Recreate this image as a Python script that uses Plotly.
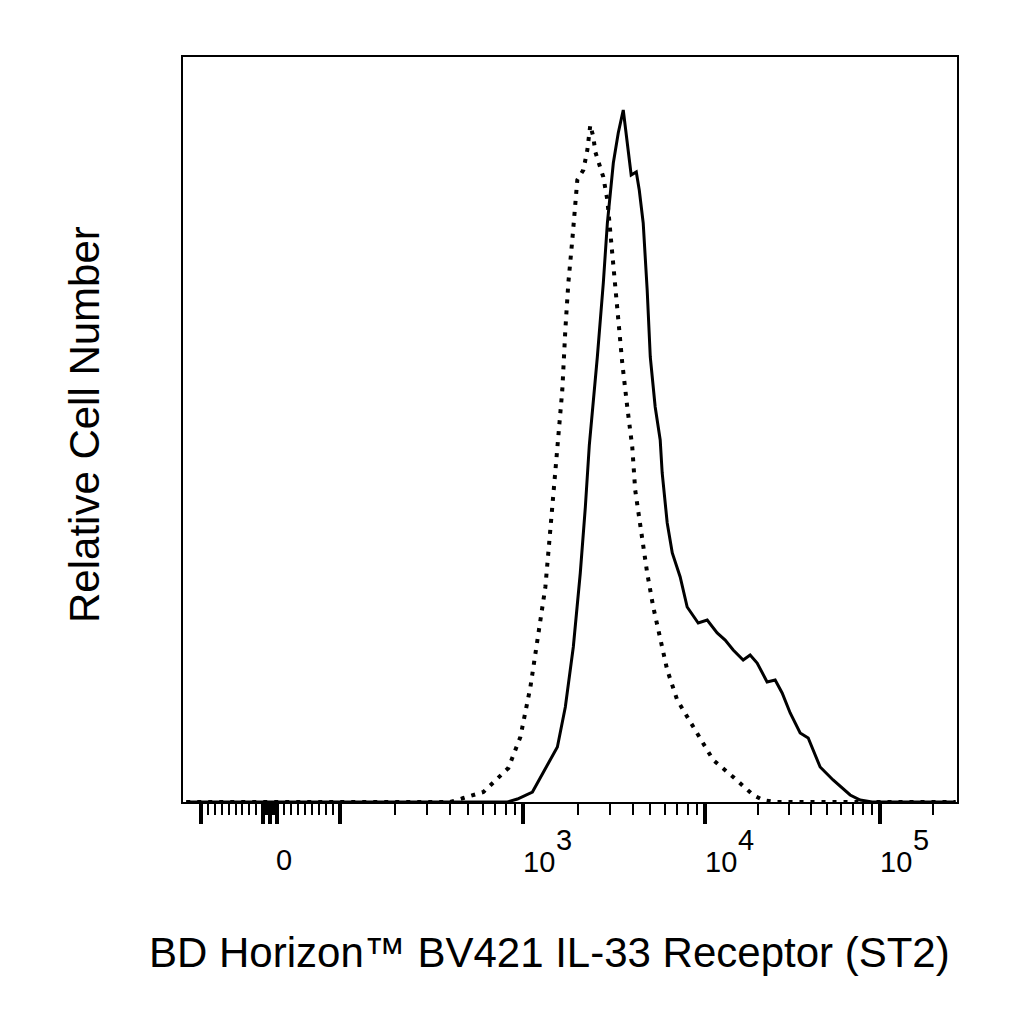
import numpy as np
import plotly.graph_objects as go

# --- biexponential display scale (value -> display decades)
SCALE_VALUES = [100, 1e3, 1e4, 1e5]
SCALE_DECADES = [0.386, 1.408, 2.419, 3.392]
LINEAR_LIMIT = 100


def to_axis(v):
    v = np.atleast_1d(np.asarray(v, dtype=float))
    out = np.empty_like(v)
    lin = np.abs(v) <= LINEAR_LIMIT
    out[lin] = v[lin] / LINEAR_LIMIT * SCALE_DECADES[0]
    big = ~lin
    lv = np.log10(np.abs(v[big]))
    d = np.interp(lv, np.log10(SCALE_VALUES), SCALE_DECADES)
    slope = SCALE_DECADES[-1] - SCALE_DECADES[-2]
    d = np.where(lv > 5, SCALE_DECADES[-1] + (lv - 5) * slope, d)
    out[big] = np.sign(v[big]) * d
    return out


# --- histogram data (fluorescence intensity, relative cell count)
solid_x = [-120, 700, 819, 928, 1121, 1355, 1538, 1701, 1882, 2056,
           2192, 2305, 2551, 2752, 2897, 3124, 3325, 3543, 3727, 3917,
           4178, 4339, 4561, 4797, 4989, 5309, 5657, 5801, 6183, 6592,
           7286, 7960, 9155, 10270, 11710, 13010, 14460, 16490, 18070, 19820,
           22590, 25120, 27540, 30610, 34900, 38800, 45400, 53830, 67400, 76900,
           90000, 270000]
solid_y = [0, 0, 0, 3, 10, 37, 55, 95, 155, 229,
           295, 357, 445, 519, 579, 639, 669, 692, 662, 627,
           630, 612, 579, 512, 445, 395, 362, 329, 279, 249,
           225, 195, 179, 182, 169, 162, 152, 142, 147, 139,
           120, 122, 109, 89, 69, 64, 35, 22, 7, 2,
           0, 0]

dotted_x = [-120, 400, 472, 606, 829, 963, 1093, 1209, 1321, 1406,
            1499, 1556, 1637, 1701, 1767, 1858, 1931, 1980, 2137, 2248,
            2334, 2425, 2488, 2584, 2752, 2897, 3008, 3201, 3325, 3499,
            3727, 3971, 4121, 4393, 4797, 5180, 5657, 6183, 7016, 7960,
            9035, 11110, 14460, 18800, 21440, 25000, 270000]
dotted_y = [0, 0, 4, 10, 34, 65, 115, 169, 215, 272,
            329, 357, 412, 472, 519, 562, 602, 622, 632, 652,
            677, 665, 650, 640, 625, 602, 569, 519, 479, 439,
            395, 355, 312, 275, 229, 195, 162, 132, 102, 85,
            69, 42, 25, 7, 2, 0, 0]

# --- axis ticks
major_ticks = [-100, -10, 0, 10, 100, 1e3, 1e4, 1e5]
minor_ticks = ([-v for v in range(20, 100, 10)] + [-v for v in range(1, 10)]
               + list(range(1, 10)) + list(range(20, 100, 10))
               + list(range(200, 1000, 100)) + list(range(2000, 10000, 1000))
               + list(range(20000, 100000, 10000)) + [200000])
label_values = [1e3, 1e4, 1e5]
label_exponents = ["3", "4", "5"]

x_range = [to_axis(-125)[0], to_axis(275000)[0]]
FONT = "Liberation Sans, Arial, sans-serif"

fig = go.Figure()

fig.add_trace(go.Scatter(x=to_axis(dotted_x), y=dotted_y, mode="lines",
                         line=dict(color="black", width=4, dash="4px,7px")))
fig.add_trace(go.Scatter(x=to_axis(solid_x), y=solid_y, mode="lines",
                         line=dict(color="black", width=3)))

annotations = []
# "0" label
annotations.append(dict(x=to_axis(0)[0], y=0, xref="x", yref="paper", text="0",
                        showarrow=False, xanchor="left", yanchor="middle",
                        xshift=4, yshift=-58, font=dict(family=FONT, size=29, color="black")))
for v, e in zip(label_values, label_exponents):
    xv = to_axis(v)[0]
    annotations.append(dict(x=xv, y=0, xref="x", yref="paper", text="10",
                            showarrow=False, xanchor="left", yanchor="middle",
                            xshift=-2, yshift=-60, font=dict(family=FONT, size=29, color="black")))
    annotations.append(dict(x=xv, y=0, xref="x", yref="paper", text=e,
                            showarrow=False, xanchor="left", yanchor="middle",
                            xshift=31, yshift=-38, font=dict(family=FONT, size=29, color="black")))

# axis titles
annotations.append(dict(x=(549 - 183) / 774, y=0, xref="paper", yref="paper",
                        text="BD Horizon™ BV421 IL-33 Receptor (ST2)", showarrow=False,
                        xanchor="center", yanchor="middle", yshift=-150,
                        font=dict(family=FONT, size=42, color="black")))
annotations.append(dict(x=(84 - 183) / 774, y=(802 - 425) / 745, xref="paper", yref="paper",
                        text="Relative Cell Number", showarrow=False, textangle=-90,
                        xanchor="center", yanchor="middle",
                        font=dict(family=FONT, size=42, color="black")))

# page body adds 8px, margins compensate for it
fig.update_layout(
    width=1024, height=1024,
    margin=dict(l=175, r=75, t=49, b=230),
    plot_bgcolor="white", paper_bgcolor="white",
    showlegend=False,
    annotations=annotations,
    xaxis=dict(range=x_range, tickmode="array", tickvals=to_axis(major_ticks),
               ticks="outside", ticklen=20, tickwidth=4, tickcolor="black",
               showticklabels=False, showline=True, linewidth=2, linecolor="black",
               mirror=True, showgrid=False, zeroline=False,
               minor=dict(tickmode="array", tickvals=to_axis(minor_ticks), ticks="outside",
                          ticklen=11, tickwidth=2, tickcolor="black", showgrid=False)),
    yaxis=dict(range=[0, 745], showline=True, linewidth=2, linecolor="black",
               mirror=True, ticks="", showticklabels=False, showgrid=False,
               zeroline=False),
)

fig.write_html("out.html")
